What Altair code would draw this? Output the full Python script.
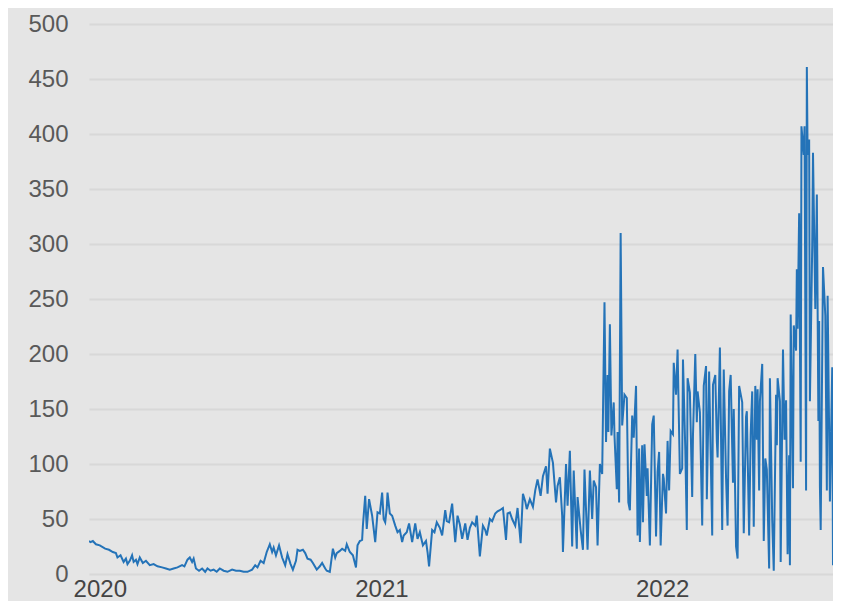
import altair as alt
import pandas as pd

# Day offsets from 2020-01-01 and daily counts
days_2020 = [-14, -12, -9, -5, 0, 7, 12, 17, 21, 23, 27, 31, 34, 36, 39, 42, 44, 47, 49, 52,
             56, 60, 65, 70, 75, 81, 86, 91, 96, 101, 107, 110, 114, 117, 120, 122, 125, 129, 133, 137,
             140, 144, 148, 152, 156, 161, 166, 172, 177, 182, 187, 192, 198, 202, 205, 209, 213, 217, 221, 224,
             226, 229, 233, 237, 241, 244, 248, 251, 255, 257,
             260, 264, 267, 270, 274, 277, 282, 286, 289, 293, 295, 299, 303, 306, 308, 312, 315, 319, 321, 325,
             329, 333, 335, 338, 341, 342, 345, 347, 350, 354, 358, 361, 364]
vals_2020 = [30, 29, 30, 27, 26, 23, 22, 20, 19, 15, 17, 11, 14, 9, 12, 17, 11, 13, 9, 15,
             10, 12, 8, 9, 7, 6, 5, 4, 5, 6, 8, 7, 13, 15, 11, 14, 5, 3, 5, 2,
             5, 3, 4, 2, 5, 3, 2, 4, 3, 3, 2, 2, 4, 8, 6, 12, 10, 20, 27, 20,
             24, 17, 26, 15, 8, 18, 9, 4, 12, 22,
             21, 22, 19, 14, 13, 10, 4, 7, 10, 5, 3, 2, 23, 15, 19, 21, 23, 21, 27, 20,
             17, 6, 26, 30, 31, 44, 71, 41, 68, 53, 29, 56, 55]

days_2021 = [367, 369, 371, 373, 374, 377, 380, 384, 387, 390, 393, 395, 399, 402, 406, 410, 413, 416, 420, 424,
             426, 428, 432, 435, 438, 442, 445, 449, 451, 454, 458, 462, 465, 468, 471, 475, 478, 481, 484, 488,
             490, 494, 498, 501, 503, 507, 510, 514, 517, 520, 524, 528, 530, 533, 536, 540, 543,
             547, 550, 553, 555, 559, 563, 566, 569, 573, 576, 580, 582, 585, 589, 593, 595, 598, 601, 602, 606,
             608, 611, 614, 616, 620, 621, 625, 628, 630, 634, 637, 640, 642, 645, 647, 650, 653, 654, 656, 658,
             660, 661, 663, 665, 668, 669, 672, 673, 675, 677, 679, 682, 685, 687, 689, 692, 694, 697, 699, 701,
             702, 705, 706, 708, 711, 712, 715, 718, 720, 723, 725, 727, 729]
vals_2021 = [74, 50, 47, 60, 74, 55, 53, 44, 38, 40, 29, 35, 38, 46, 29, 46, 32, 38, 26, 30,
             20, 7, 40, 38, 47, 42, 35, 58, 48, 47, 64, 29, 53, 45, 32, 46, 31, 42, 47, 44,
             53, 16, 44, 40, 35, 50, 48, 55, 57, 58, 60, 31, 55, 56, 50, 44, 60,
             28, 73, 66, 59, 68, 61, 76, 86, 71, 89, 98, 73, 114, 101, 65, 80, 88, 53, 20, 100,
             62, 112, 25, 94, 23, 70, 40, 22, 95, 22, 94, 50, 85, 79, 26, 100, 91, 144, 247, 120,
             181, 129, 227, 126, 156, 126, 77, 129, 65, 310, 135, 163, 160, 65, 58, 144, 124, 171, 35, 114,
             29, 117, 47, 118, 71, 96, 26, 136, 144, 34, 93, 111, 26]

days_2022 = [732, 733, 736, 738, 740, 742, 745, 746, 749, 751, 754, 757, 758, 761, 763, 764, 767, 770, 771, 774,
             776, 777, 780, 783, 785, 788, 789, 792, 796, 797, 800, 802, 803, 806, 809, 811, 814, 816, 818, 820,
             823, 824, 827, 829, 831, 835, 837,
             840, 841, 844, 846, 848, 850, 852, 854, 855, 857, 858, 861, 863, 865, 867, 870, 871, 874, 876, 879,
             880, 881, 884, 885, 888, 890, 892, 894, 896, 897, 898, 901, 902, 905, 906, 907, 909, 911, 912, 915,
             916, 918, 919, 920, 922, 923, 926, 927, 930, 932, 934, 935, 936, 937, 940, 943, 945, 946, 949, 952,
             953, 957, 959, 962]
vals_2022 = [91, 87, 55, 121, 76, 130, 127, 192, 163, 204, 91, 96, 195, 114, 40, 178, 165, 70, 126, 200,
             138, 166, 147, 44, 171, 189, 68, 184, 35, 172, 181, 121, 106, 206, 40, 186, 87, 44, 166, 181,
             83, 150, 25, 14, 171, 156, 37,
             143, 148, 35, 127, 166, 43, 171, 122, 168, 76, 157, 191, 30, 105, 95, 5, 178, 49, 3, 163,
             117, 178, 157, 11, 204, 122, 158, 18, 108, 8, 236, 78, 226, 203, 277, 223, 328, 102, 407, 381,
             407, 76, 461, 381, 395, 157, 299, 383, 241, 345, 139, 230, 79, 40, 279, 235, 76, 253, 66, 188,
             8, 21, 24, 146]

y_ticks = [0, 50, 100, 150, 200, 250, 300, 350, 400, 450, 500]

days = days_2020 + days_2021 + days_2022
vals = vals_2020 + vals_2021 + vals_2022
base = pd.Timestamp("2020-01-01")
df = pd.DataFrame({
    "date": [(base + pd.Timedelta(days=d)).strftime("%Y-%m-%d") for d in days],
    "value": vals,
})

FONT = "Liberation Sans"

chart = alt.Chart(df).mark_line(color="#2473b8", strokeWidth=2, clip=True).encode(
    x=alt.X(
        "date:T",
        title=None,
        scale=alt.Scale(domain=[alt.DateTime(year=2019, month=12, date=18),
                                alt.DateTime(year=2022, month=8, date=11)]),
        axis=alt.Axis(
            values=[alt.DateTime(year=2020, month=1, date=1),
                    alt.DateTime(year=2021, month=1, date=1),
                    alt.DateTime(year=2022, month=1, date=1)],
            format="%Y", grid=False, domain=False, ticks=False,
            labelPadding=3, labelFontSize=24, labelFont=FONT, labelColor="#444444",
            labelFlush=False, labelOverlap=False,
        ),
    ),
    y=alt.Y(
        "value:Q",
        title=None,
        scale=alt.Scale(domain=[0, 500], nice=False),
        axis=alt.Axis(
            values=y_ticks, grid=True, gridColor="#d8d8d8", gridWidth=2,
            domain=False, ticks=False, labelPadding=21, labelFontSize=24,
            labelFont=FONT, labelColor="#595959",
        ),
    ),
).properties(
    width=744,
    height=550,
    autosize=alt.AutoSizeParams(type="none"),
    padding={"left": 81, "top": 16, "right": 0, "bottom": 27},
    background="#e5e5e5",
).configure_view(stroke=None, fill="#e5e5e5")

chart.save("out.html", embed_options={"renderer": "svg", "actions": False})
